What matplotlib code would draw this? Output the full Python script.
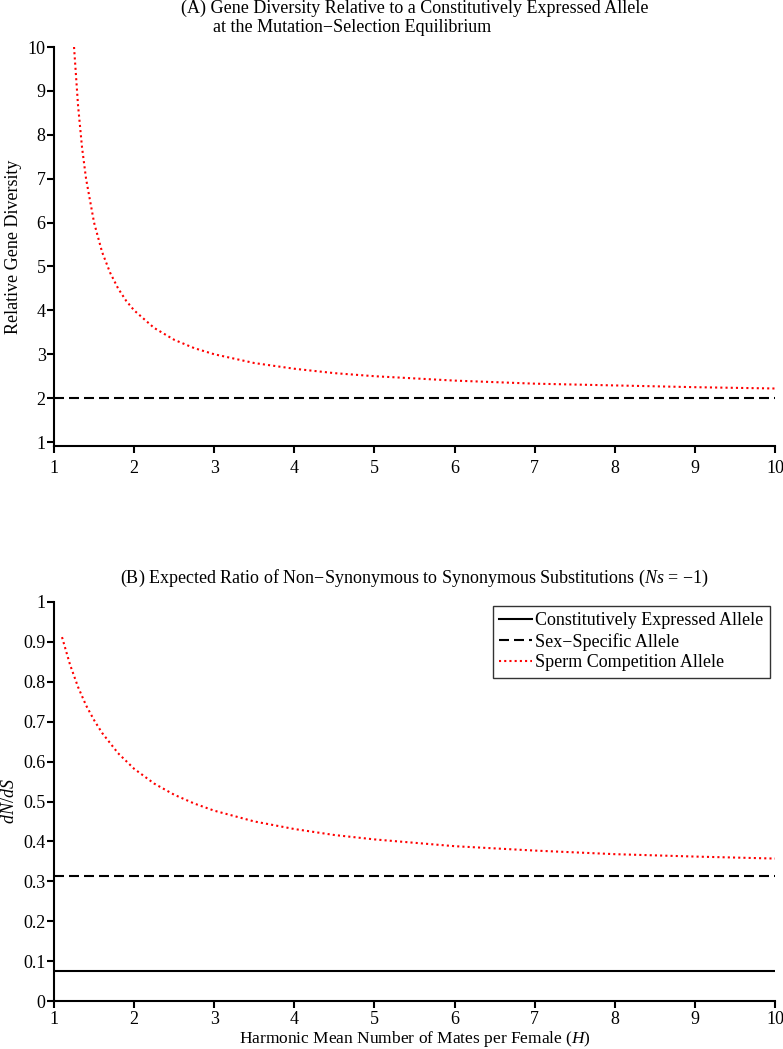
import matplotlib.pyplot as plt

plt.rcParams['font.family'] = ['Liberation Serif', 'DejaVu Serif']
plt.rcParams['mathtext.fontset'] = 'custom'
plt.rcParams['mathtext.it'] = 'Liberation Serif:italic'
plt.rcParams['mathtext.rm'] = 'Liberation Serif'

# (A) relative gene diversity
matesA = [1.25, 1.3, 1.35, 1.4, 1.5, 1.6, 1.7, 1.8, 1.9, 2.0, 2.25, 2.5, 2.75,
          3.0, 3.5, 4.0, 4.5, 5.0, 6.0, 7.0, 8.0, 9.0, 10.0]
spermDiversity = [10.0, 8.67, 7.71, 7.0, 6.0, 5.33, 4.86, 4.5, 4.22, 4.0, 3.6, 3.33, 3.14,
                  3.0, 2.8, 2.67, 2.57, 2.5, 2.4, 2.33, 2.29, 2.25, 2.22]
sexDiversity = 2.0

# (B) dN/dS
matesB = [1.1, 1.2, 1.3, 1.4, 1.5, 1.6, 1.8, 2.0, 2.25, 2.5, 2.75, 3.0, 3.5,
          4.0, 4.5, 5.0, 6.0, 7.0, 8.0, 9.0, 10.0]
spermDnds = [0.912, 0.843, 0.787, 0.741, 0.704, 0.672, 0.621, 0.582, 0.545, 0.517, 0.495,
             0.477, 0.450, 0.431, 0.416, 0.405, 0.388, 0.377, 0.368, 0.362, 0.357]
sexDnds = 0.313
constDnds = 0.075

xTicks = [1, 2, 3, 4, 5, 6, 7, 8, 9, 10]
yTicksA = [1, 2, 3, 4, 5, 6, 7, 8, 9, 10]
yTicksB = [0, 0.1, 0.2, 0.3, 0.4, 0.5, 0.6, 0.7, 0.8, 0.9, 1]
yLabelsB = ['0', '0.1', '0.2', '0.3', '0.4', '0.5', '0.6', '0.7', '0.8', '0.9', '1']

W, H = 783, 1049
fig = plt.figure(figsize=(W / 100, H / 100), dpi=100)


def px_axes(l, t, r, b):
    return fig.add_axes([l / W, 1 - b / H, (r - l) / W, (b - t) / H])


def style(ax, xpad):
    for s in ['top', 'right']:
        ax.spines[s].set_visible(False)
    for s in ['left', 'bottom']:
        ax.spines[s].set_linewidth(1.5)
    ax.tick_params(direction='out', length=5, width=1.5, labelsize=13)
    ax.tick_params(axis='y', pad=1)
    ax.tick_params(axis='x', pad=xpad)


dash = dict(color='black', lw=1.5, dashes=(4.8, 2.4))
dot = dict(color='red', lw=1.5, dashes=(1, 1.5))

# panel A
axA = px_axes(54, 47, 775, 446)
axA.plot([1, 10], [sexDiversity, sexDiversity], **dash)
axA.plot(matesA, spermDiversity, **dot)
axA.set_xlim(1, 10)
axA.set_ylim(0.91, 10)
axA.set_xticks(xTicks)
axA.set_yticks(yTicksA)
axA.set_ylabel('Relative Gene Diversity', fontsize=13, labelpad=4)
style(axA, 5)
fig.text(415 / W, 1 - 8 / H, '(A) Gene Diversity Relative to a Constitutively Expressed Allele',
         ha='center', va='center', fontsize=13)
fig.text(213 / W, 1 - 28 / H, 'at the Mutation\u2212Selection Equilibrium',
         ha='left', va='center', fontsize=13)

# panel B
axB = px_axes(54, 602, 775, 1001)
axB.plot([1, 10], [constDnds, constDnds], color='black', lw=1.5, label='Constitutively Expressed Allele')
axB.plot([1, 10], [sexDnds, sexDnds], label='Sex\u2212Specific Allele', **dash)
axB.plot(matesB, spermDnds, label='Sperm Competition Allele', **dot)
axB.set_xlim(1, 10)
axB.set_ylim(0, 1)
axB.set_xticks(xTicks)
axB.set_yticks(yTicksB)
axB.set_yticklabels(yLabelsB)
axB.set_ylabel('$dN/dS$', fontsize=13, labelpad=4)
axB.set_xlabel('Harmonic Mean Number of Mates per Female ($H$)', fontsize=12.5, labelpad=0.3)
style(axB, 2.5)
fig.text(414 / W, 1 - 578 / H,
         '(B) Expected Ratio of Non\u2212Synonymous to Synonymous Substitutions ($Ns$ = \u22121)',
         ha='center', va='center', fontsize=13)
leg = axB.legend(loc='upper right', bbox_to_anchor=(0.993, 0.99), fontsize=13,
                 frameon=True, fancybox=False, handlelength=1.8, handletextpad=0.2,
                 borderpad=0.35, labelspacing=0.2, borderaxespad=0.0)
leg.get_frame().set_edgecolor('black')
leg.get_frame().set_linewidth(1.0)

fig.savefig('out.png', dpi=100)
